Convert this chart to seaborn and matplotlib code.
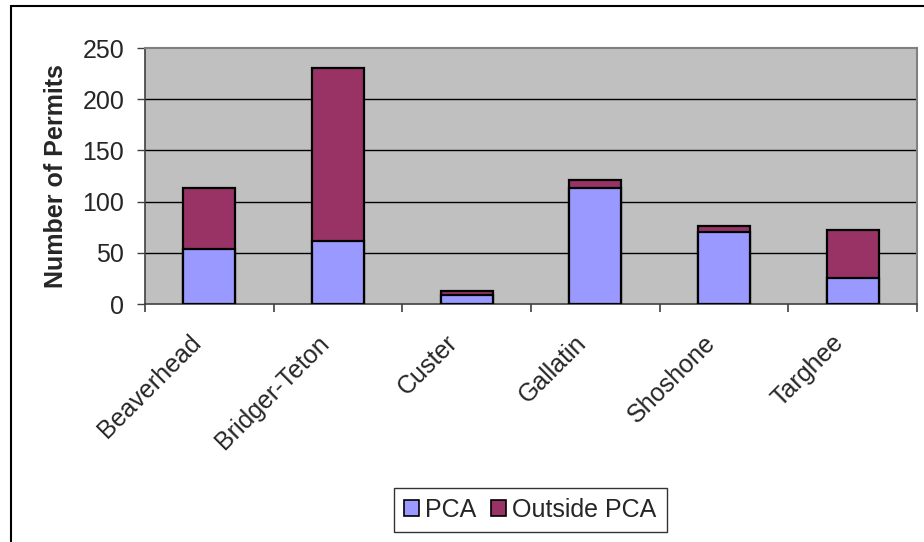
import matplotlib
matplotlib.use("Agg")
import matplotlib.pyplot as plt
from matplotlib.patches import Rectangle, Patch
from matplotlib.transforms import ScaledTranslation
import seaborn as sns
import pandas as pd

# Permits by national forest, split by PCA location
forests = ["Beaverhead", "Bridger-Teton", "Custer", "Gallatin", "Shoshone", "Targhee"]
pca = [54, 62, 9, 113, 70, 25]
outside_pca = [59, 168, 4, 8, 6, 47]
y_ticks = [0, 50, 100, 150, 200, 250]

pca_color = "#9999FF"
outside_color = "#993366"
font_size = 18

sns.set_theme(style="white")
plt.rcParams["font.family"] = ["Liberation Sans", "DejaVu Sans"]

df = pd.DataFrame({"forest": forests, "pca": pca, "outside": outside_pca})
df["total"] = df["pca"] + df["outside"]

fig = plt.figure(figsize=(9.24, 5.42), dpi=100)
ax = fig.add_axes([145 / 924, 1 - 304 / 542, (917 - 145) / 924, (304 - 48) / 542])
ax.set_facecolor("#C0C0C0")

bar_kw = dict(width=0.405, edgecolor="black", linewidth=1.6, ax=ax, zorder=3)
# full stack height first, PCA portion drawn over its lower part
sns.barplot(data=df, x="forest", y="total", color=outside_color, saturation=1, **bar_kw)
sns.barplot(data=df, x="forest", y="pca", color=pca_color, saturation=1, **bar_kw)

ax.set_xlim(-0.5, len(forests) - 0.5)
ax.set_ylim(0, 250)
ax.set_yticks(y_ticks)
ax.set_yticklabels([str(v) for v in y_ticks], fontsize=font_size)
for v in y_ticks[1:-1]:
    ax.axhline(v, color="black", linewidth=1.0, zorder=1)

ax.set_xlabel("")
ax.set_ylabel("Number of Permits", fontsize=font_size, fontweight="bold", labelpad=10)

# category labels centred, tick marks on category boundaries
ax.set_xticks(range(len(forests)))
ax.set_xticklabels(forests, rotation=45, ha="right", rotation_mode="anchor", fontsize=font_size)
ax.set_xticks([i - 0.5 for i in range(len(forests) + 1)], minor=True)
ax.tick_params(axis="x", which="major", length=0, pad=12)
ax.tick_params(axis="x", which="minor", bottom=True, length=6, width=1.2, color="#404040", direction="out")
ax.tick_params(axis="y", left=True, length=6, width=1.0, color="#404040", direction="out", pad=9)
shift = ScaledTranslation(-0.21, -0.1, fig.dpi_scale_trans)
for lbl in ax.get_xticklabels():
    lbl.set_transform(lbl.get_transform() + shift)

for side in ["top", "right"]:
    ax.spines[side].set_color("#808080")
    ax.spines[side].set_linewidth(1.5)
for side in ["left", "bottom"]:
    ax.spines[side].set_color("#404040")
    ax.spines[side].set_linewidth(1.2)

handles = [Patch(facecolor=pca_color, edgecolor="black", linewidth=1.2),
           Patch(facecolor=outside_color, edgecolor="black", linewidth=1.2)]
leg = fig.legend(handles, ["PCA", "Outside PCA"], loc="center", bbox_to_anchor=(530 / 924, 1 - 510 / 542),
                 ncol=2, fontsize=font_size, frameon=True, fancybox=False, edgecolor="black",
                 handlelength=0.6, handleheight=0.6, handletextpad=0.25, columnspacing=0.6,
                 borderpad=0.4)
leg.get_frame().set_linewidth(1.0)

fig.patches.append(Rectangle((11 / 924, -0.05), 1.2, 1 - 6 / 542 + 0.05, transform=fig.transFigure,
                             fill=False, edgecolor="black", linewidth=1.5))

fig.savefig("out.png", dpi=100, facecolor="white")
